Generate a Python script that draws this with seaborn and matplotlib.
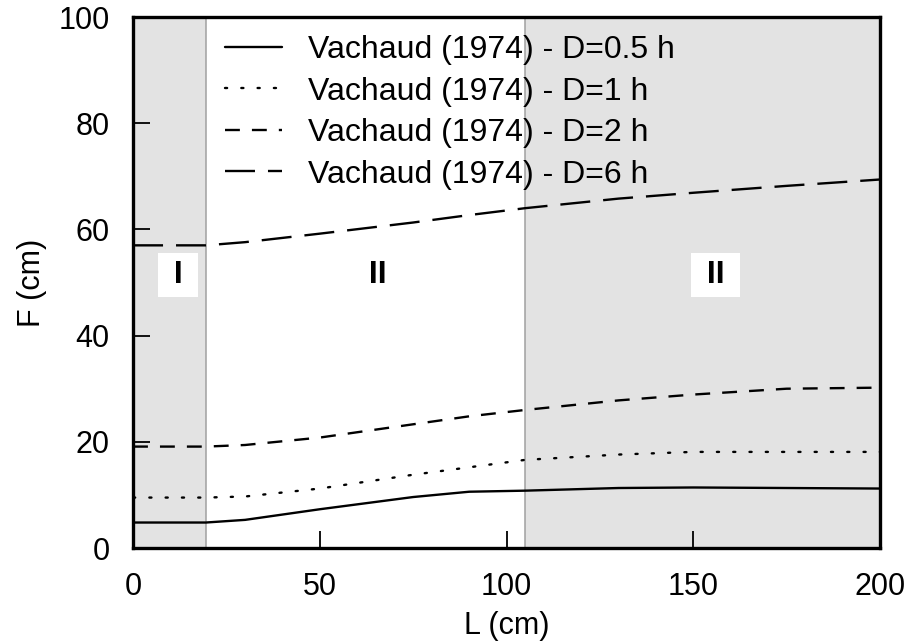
import matplotlib
matplotlib.use("Agg")
import matplotlib.pyplot as plt
import seaborn as sns
import pandas as pd

sns.set_theme(style="white")
plt.rcParams["font.family"] = ["Liberation Sans", "DejaVu Sans"]
plt.rcParams["text.color"] = "black"
plt.rcParams["axes.labelcolor"] = "black"
plt.rcParams["xtick.color"] = "black"
plt.rcParams["ytick.color"] = "black"

# Infiltration depth F versus column length L (Vachaud, 1974)
L_cm = [0, 19.5, 30, 50, 75, 90, 105, 130, 150, 175, 200]
F_d05 = [4.8, 4.8, 5.3, 7.3, 9.6, 10.6, 10.8, 11.3, 11.4, 11.3, 11.2]
F_d1 = [9.5, 9.5, 9.7, 11.2, 13.8, 15.2, 16.6, 17.6, 18.1, 18.1, 18.1]
F_d2 = [19.1, 19.1, 19.4, 20.8, 23.3, 24.8, 26.0, 27.8, 28.9, 30.0, 30.2]
F_d6 = [57.0, 57.0, 57.6, 59.2, 61.3, 62.7, 64.0, 65.8, 66.9, 68.2, 69.4]

series_labels = [
    "Vachaud (1974) - D=0.5 h",
    "Vachaud (1974) - D=1 h",
    "Vachaud (1974) - D=2 h",
    "Vachaud (1974) - D=6 h",
]
region_bounds = [0, 19.5, 105, 200]
region_labels = ["I", "II", "II"]
region_label_x = [12, 65.5, 156]
region_label_y = 51.5

line_styles = [
    "-",
    (0, (0.9, 6.0)),
    (0, (6.3, 5.1)),
    (0, (12.7, 5.5)),
]
LW = 1.7

fig = plt.figure(figsize=(9.22, 6.42), dpi=100)
ax = fig.add_axes([0.1443, 0.1464, 0.8101, 0.8271])

# shaded regions and their boundaries
ax.axvspan(region_bounds[0], region_bounds[1], color="#e3e3e3", zorder=0, lw=0)
ax.axvspan(region_bounds[2], region_bounds[3], color="#e3e3e3", zorder=0, lw=0)
for xb in region_bounds[1:3]:
    ax.axvline(xb, color="#a0a0a0", lw=1.1, zorder=1)

for vals, lab, ls in zip([F_d05, F_d1, F_d2, F_d6], series_labels, line_styles):
    df = pd.DataFrame({"L": L_cm, "F": vals})
    sns.lineplot(data=df, x="L", y="F", ax=ax, color="black", lw=LW,
                 linestyle=ls, label=lab, zorder=3,
                 dash_capstyle="round" if ls == line_styles[1] else "butt")

for txt, xp in zip(region_labels, region_label_x):
    ax.text(xp, region_label_y, f" {txt} ", fontsize=23, fontweight="bold",
            ha="center", va="center", zorder=4,
            bbox=dict(facecolor="white", edgecolor="none", pad=5))

ax.set_xlim(0, 200)
ax.set_ylim(0, 100)
ax.set_xticks([0, 50, 100, 150, 200])
ax.set_yticks([0, 20, 40, 60, 80, 100])
ax.tick_params(axis="both", direction="in", length=12, width=1.3,
               labelsize=22, pad=17,
               bottom=True, left=True, top=False, right=False)
ax.set_xlabel("L (cm)", fontsize=22, labelpad=7)
ax.set_ylabel("F (cm)", fontsize=22, labelpad=8)
for sp in ax.spines.values():
    sp.set_linewidth(2.4)
    sp.set_color("black")

leg = ax.legend(loc="upper left", bbox_to_anchor=(0.106, 0.990), frameon=False,
                fontsize=23, handlelength=1.8, handletextpad=0.8,
                labelspacing=0.36, borderaxespad=0)
for h in leg.get_lines():
    h.set_linewidth(LW)

fig.savefig("out.png", dpi=100)
